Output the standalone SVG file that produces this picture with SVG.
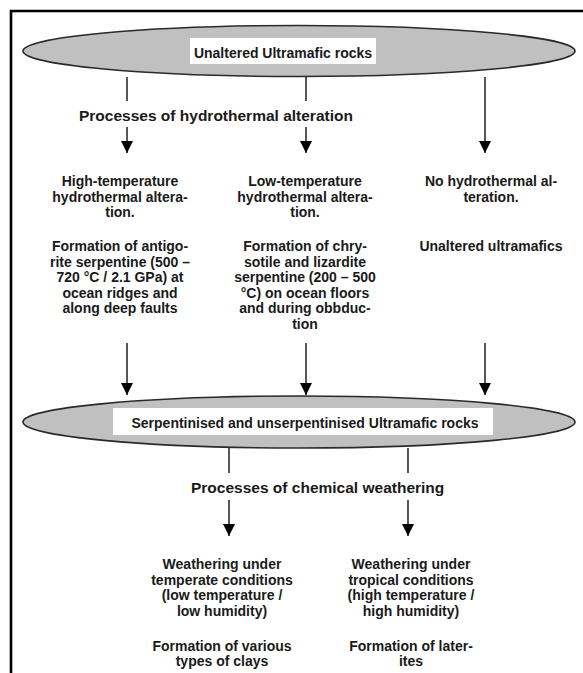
<svg xmlns="http://www.w3.org/2000/svg" width="583" height="673" viewBox="0 0 583 673">
<style>
.t{font-family:"Liberation Sans",Arial,sans-serif;font-weight:bold;font-size:14px;fill:#1a1a1a;text-anchor:middle}
.h{font-family:"Liberation Sans",Arial,sans-serif;font-weight:bold;font-size:15.5px;fill:#1a1a1a}
.ell{fill:#c0c0c0;stroke:#2a2a2a;stroke-width:1.6}
.box{fill:#ffffff;stroke:none}
.ln{stroke:#111;stroke-width:1.4;fill:none}
</style>
<defs>
<marker id="ah" viewBox="0 0 12 12" refX="12" refY="6" markerWidth="12" markerHeight="12" markerUnits="userSpaceOnUse" orient="auto">
<path d="M0,0 L12,6 L0,12 z" fill="#000"/>
</marker>
</defs>
<rect x="0" y="0" width="583" height="673" fill="#fff"/>
<path d="M11,673 L11,11 L583,11" fill="none" stroke="#000" stroke-width="2.6"/>

<g id="unaltered">
<ellipse class="ell" cx="299" cy="51" rx="276" ry="25.5"/>
<rect class="box" x="190" y="38" width="186" height="26"/>
<text class="t" x="283" y="57.5">Unaltered Ultramafic rocks</text>
</g>

<g id="hydro-label">
<text class="h" x="79" y="121">Processes of hydrothermal alteration</text>
</g>

<g id="high-temp">
<text class="t" x="120" y="186">High-temperature</text>
<text class="t" x="120" y="201.5">hydrothermal altera-</text>
<text class="t" x="120" y="217">tion.</text>
<text class="t" x="120" y="251">Formation of antigo-</text>
<text class="t" x="120" y="266.5">rite serpentine (500 –</text>
<text class="t" x="120" y="282">720 °C / 2.1 GPa) at</text>
<text class="t" x="120" y="297.5">ocean ridges and</text>
<text class="t" x="120" y="313">along deep faults</text>
</g>

<g id="low-temp">
<text class="t" x="305" y="186">Low-temperature</text>
<text class="t" x="305" y="201.5">hydrothermal altera-</text>
<text class="t" x="305" y="217">tion.</text>
<text class="t" x="305" y="251">Formation of chry-</text>
<text class="t" x="305" y="266.5">sotile and lizardite</text>
<text class="t" x="305" y="282">serpentine (200 – 500</text>
<text class="t" x="305" y="297.5">°C) on ocean floors</text>
<text class="t" x="305" y="313">and during obbduc-</text>
<text class="t" x="305" y="328.5">tion</text>
</g>

<g id="no-alteration">
<text class="t" x="491" y="186">No hydrothermal al-</text>
<text class="t" x="491" y="201.5">teration.</text>
<text class="t" x="491" y="251">Unaltered ultramafics</text>
</g>

<g id="serpentinised">
<ellipse class="ell" cx="299" cy="422" rx="276" ry="26"/>
<rect class="box" x="113" y="408" width="380" height="27"/>
<text class="t" x="305" y="428">Serpentinised and unserpentinised Ultramafic rocks</text>
</g>

<g id="weathering-label">
<text class="h" x="191" y="493">Processes of chemical weathering</text>
</g>

<g id="temperate">
<text class="t" x="222" y="569">Weathering under</text>
<text class="t" x="222" y="584.5">temperate conditions</text>
<text class="t" x="222" y="600">(low temperature /</text>
<text class="t" x="222" y="615.5">low humidity)</text>
<text class="t" x="222" y="650.5">Formation of various</text>
<text class="t" x="222" y="666">types of clays</text>
</g>

<g id="tropical">
<text class="t" x="411" y="569">Weathering under</text>
<text class="t" x="411" y="584.5">tropical conditions</text>
<text class="t" x="411" y="600">(high temperature /</text>
<text class="t" x="411" y="615.5">high humidity)</text>
<text class="t" x="411" y="650.5">Formation of later-</text>
<text class="t" x="411" y="666">ites</text>
</g>

<g id="connectors">
<line class="ln" x1="127" y1="77" x2="127" y2="101"/>
<line class="ln" x1="127" y1="127" x2="127" y2="153" marker-end="url(#ah)"/>
<line class="ln" x1="306" y1="77" x2="306" y2="101"/>
<line class="ln" x1="306" y1="127" x2="306" y2="153" marker-end="url(#ah)"/>
<line class="ln" x1="485" y1="77" x2="485" y2="153" marker-end="url(#ah)"/>
<line class="ln" x1="127" y1="343" x2="127" y2="395" marker-end="url(#ah)"/>
<line class="ln" x1="306" y1="343" x2="306" y2="395" marker-end="url(#ah)"/>
<line class="ln" x1="485" y1="343" x2="485" y2="395" marker-end="url(#ah)"/>
<line class="ln" x1="229" y1="448" x2="229" y2="473"/>
<line class="ln" x1="229" y1="500" x2="229" y2="536" marker-end="url(#ah)"/>
<line class="ln" x1="408" y1="448" x2="408" y2="473"/>
<line class="ln" x1="408" y1="500" x2="408" y2="536" marker-end="url(#ah)"/>
</g>
</svg>
